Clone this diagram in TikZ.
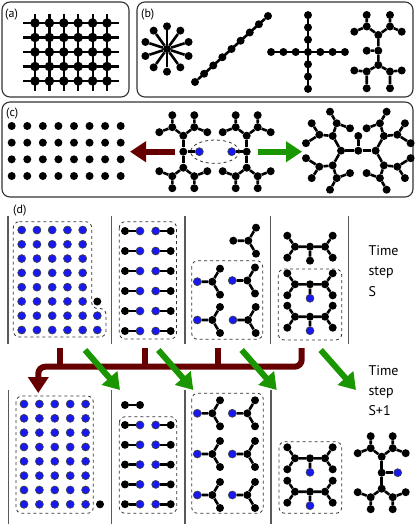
\documentclass[tikz,border=0pt]{standalone}
\usepackage{fontspec}
\setmainfont{PT Sans}
\usetikzlibrary{arrows.meta,shapes.geometric}

\definecolor{atomblue}{RGB}{24,24,240}
\definecolor{mergered}{RGB}{102,0,0}
\definecolor{growgreen}{RGB}{26,150,0}

\tikzset{
  atom/.style={circle, fill=black, inner sep=0pt, minimum size=8pt},
  bigatom/.style={atom, minimum size=9.5pt},
  blueatom/.style={atom, fill=atomblue, draw=black!75, line width=0.6pt},
  bond/.style={line width=2.6pt},
  latline/.style={line width=2.2pt},
  panel/.style={draw=black!80, line width=1.1pt, rounded corners=8pt},
  dashbox/.style={draw=black!80, dashed, line width=0.8pt, rounded corners=6pt},
  sep/.style={draw=black!65, line width=1.3pt},
  redline/.style={draw=mergered, line width=6pt},
  redarrow/.style={redline, -{Triangle[length=16pt, width=20pt]}},
  greenarrow/.style={draw=growgreen, line width=6pt, -{Triangle[length=16pt, width=20pt]}},
  lbl/.style={font=\fontsize{12}{14}\selectfont, inner sep=0pt, anchor=base west},
  tlbl/.style={font=\fontsize{14}{17}\selectfont, inner sep=0pt, anchor=base west}
}

% two atoms: name, x, y, left style, right style
\newcommand\dimer[5]{%
  \begin{scope}[shift={(#2,#3)}]
    \node[#4] (#1-a) at (0,0) {};
    \node[#5] (#1-b) at (15,0) {};
  \end{scope}
  \draw[bond] (#1-a) -- (#1-b);}

% three-armed unit: name, x, y, style of the free end
\newcommand\trimer[4]{%
  \begin{scope}[shift={(#2,#3)}]
    \node[atom] (#1-c) at (0,0) {};
    \node[#4] (#1-e) at (-15,0) {};
    \node[atom] (#1-u) at (7.7,-13) {};
    \node[atom] (#1-d) at (7.7,13) {};
  \end{scope}
  \draw[bond] (#1-e) -- (#1-c) -- (#1-u) (#1-c) -- (#1-d);}

% H shaped unit: name, x, y, style of the bottom end
\newcommand\hmol[4]{%
  \begin{scope}[shift={(#2,#3)}]
    \node[atom] (#1-c) at (0,0) {};
    \node[atom] (#1-l) at (-15,0) {};
    \node[atom] (#1-r) at (15,0) {};
    \node[atom] (#1-la) at (-22.7,-11) {};
    \node[atom] (#1-lb) at (-22.7,11) {};
    \node[atom] (#1-ra) at (22.7,-11) {};
    \node[atom] (#1-rb) at (22.7,11) {};
    \node[#4] (#1-t) at (0,14) {};
  \end{scope}
  \draw[bond] (#1-l) -- (#1-c) -- (#1-r) (#1-c) -- (#1-t)
    (#1-la) -- (#1-l) -- (#1-lb) (#1-ra) -- (#1-r) -- (#1-rb);}

% one half of the big unit: name, +1 top / -1 bottom, backbone node
\newcommand\bigarm[3]{%
  \begin{scope}[yscale=#2]
    \node[atom] (#1-a) at (-11,-24.5) {};
    \node[atom] (#1-b) at (11,-24.5) {};
    \node[atom] (#1-c) at (-11,-36.5) {};
    \node[atom] (#1-d) at (-24,-19.5) {};
    \node[atom] (#1-e) at (11,-36.5) {};
    \node[atom] (#1-f) at (24,-19.5) {};
  \end{scope}
  \draw[bond] (#3) -- (#1-a) -- (#1-c) (#1-a) -- (#1-d)
    (#3) -- (#1-b) -- (#1-e) (#1-b) -- (#1-f);}

% big unit: name, x, y
\newcommand\bigmol[3]{%
  \begin{scope}[shift={(#2,#3)}]
    \node[atom] (#1-m) at (0,0) {};
    \node[atom] (#1-u) at (0,-16) {};
    \node[atom] (#1-d) at (0,16) {};
    \bigarm{#1-t}{1}{#1-u}
    \bigarm{#1-b}{-1}{#1-d}
  \end{scope}
  \draw[bond] (#1-u) -- (#1-m) -- (#1-d);}

% limb of the merged unit: name, xscale, yscale, backbone node
\newcommand\limb[4]{%
  \begin{scope}[xscale=#2, yscale=#3]
    \node[atom] (#1-u) at (-25.6,-14.7) {};
    \node[atom] (#1-p) at (-39,-16) {};
    \node[atom] (#1-pa) at (-46.6,-27.4) {};
    \node[atom] (#1-pb) at (-52.3,-7.5) {};
    \node[atom] (#1-q) at (-21.6,-27.4) {};
    \node[atom] (#1-qa) at (-28.3,-39) {};
    \node[atom] (#1-qb) at (-8.3,-22.4) {};
  \end{scope}
  \draw[bond] (#4) -- (#1-u) -- (#1-p) -- (#1-pa) (#1-p) -- (#1-pb)
    (#1-u) -- (#1-q) -- (#1-qa) (#1-q) -- (#1-qb);}

\begin{document}
\begin{tikzpicture}[x=1pt, y=-1pt]
\useasboundingbox (0,0) rectangle (415,526);

% panels
\draw[panel] (2,2) rectangle (129,97);
\draw[panel] (137,2) rectangle (413,97);
\draw[panel] (2,102) rectangle (413,197);
\node[lbl] (la) at (5,18) {(a)};
\node[lbl] (lb) at (141,18) {(b)};
\node[lbl] (lc) at (6,117) {(c)};
\node[lbl] (ld) at (13,213.5) {(d)};

% (a) lattice
\foreach \r in {0,...,4}
  \draw[latline] (23,23+14.5*\r) -- (119,23+14.5*\r);
\foreach \c in {0,...,5}
  \draw[latline] (35+14.4*\c,14) -- (35+14.4*\c,91);
\foreach \r in {0,...,4}
  \foreach \c in {0,...,5}
    \node[bigatom] (a-\r-\c) at (35+14.4*\c,23+14.5*\r) {};

% (b) star
\node[atom] (st) at (167,49) {};
\begin{scope}[shift={(167,49)}]
  \foreach \k in {0,...,9} {
    \node[atom] (st\k) at (18+36*\k:22.7) {};
    \draw[bond] (st) -- (st\k);
  }
\end{scope}

% (b) chain
\foreach \k in {0,...,8}
  \node[atom] (ch\k) at (195+9.125*\k,82-8.25*\k) {};
\draw[bond] (ch0) -- (ch8);

% (b) cross
\node[atom] (cx) at (308,52) {};
\foreach \k in {1,2,3} {
  \node[atom] (cxw\k) at (308-12.3*\k,52) {};
  \node[atom] (cxe\k) at (308+12.3*\k,52) {};
  \node[atom] (cxn\k) at (308,52-12.3*\k) {};
  \node[atom] (cxs\k) at (308,52+12.3*\k) {};
}
\draw[bond] (cxw3) -- (cxe3) (cxn3) -- (cxs3);

% (b) branched tree
\node[atom] (tr-a) at (378.3,35) {};
\node[atom] (tr-b1) at (366.7,26.5) {};
\node[atom] (tr-b2) at (390,26.5) {};
\node[atom] (tr-b1a) at (366.7,15) {};
\node[atom] (tr-b1b) at (354.3,31.7) {};
\node[atom] (tr-b2a) at (390,15) {};
\node[atom] (tr-b2b) at (401.7,31.7) {};
\node[atom] (tr-c) at (378.3,50.7) {};
\node[atom] (tr-cl) at (366.7,50.7) {};
\node[atom] (tr-d) at (378.3,65) {};
\node[atom] (tr-e1) at (366.7,71.5) {};
\node[atom] (tr-e2) at (390,71.5) {};
\node[atom] (tr-e1a) at (354.3,70.5) {};
\node[atom] (tr-e1b) at (366.7,88.3) {};
\node[atom] (tr-e2a) at (401.7,70.5) {};
\node[atom] (tr-e2b) at (390,88.3) {};
\draw[bond] (tr-b1a) -- (tr-b1) -- (tr-b1b) (tr-b1) -- (tr-a) -- (tr-b2)
  (tr-b2a) -- (tr-b2) -- (tr-b2b) (tr-a) -- (tr-c) -- (tr-d) (tr-c) -- (tr-cl)
  (tr-e1) -- (tr-d) -- (tr-e2) (tr-e1a) -- (tr-e1) -- (tr-e1b)
  (tr-e2a) -- (tr-e2) -- (tr-e2b);

% (c) free atoms
\foreach \i in {0,...,7}
  \foreach \j in {0,...,3}
    \node[atom] (cg-\i-\j) at (11.7+15.57*\i,126+16.67*\j) {};

% (c) two units with their ends
\bigmol{cl}{183.3}{151.7}
\bigmol{cr}{246.7}{151.7}
\node[blueatom] (cl-x) at (199.3,151.7) {};
\node[blueatom] (cr-x) at (231.7,151.7) {};
\draw[bond] (cl-m) -- (cl-x) (cr-m) -- (cr-x);
\node[draw=black!80, dashed, line width=0.8pt, ellipse, minimum width=48.6pt,
  minimum height=23.4pt] (pair) at (215,151.7) {};

% (c) arrows
\coordinate (cra) at (175,151.7);
\coordinate (crb) at (130,151.7);
\coordinate (cga) at (258,151.7);
\coordinate (cgb) at (302,151.7);
\draw[redarrow] (cra) -- (crb);
\draw[greenarrow] (cga) -- (cgb);

% (c) merged unit
\begin{scope}[shift={(358.3,150.7)}]
  \node[atom] (mc) at (0,0) {};
  \node[atom] (mcu) at (0,-14.7) {};
  \node[atom] (ml) at (-17.3,0) {};
  \node[atom] (mr) at (17.3,0) {};
  \limb{mlt}{1}{1}{ml}
  \limb{mlb}{1}{-1}{ml}
  \limb{mrt}{-1}{1}{mr}
  \limb{mrb}{-1}{-1}{mr}
  \draw[bond] (ml) -- (mc) -- (mr) (mc) -- (mcu);
\end{scope}

% (d) separators
\foreach \x in {8,111.7,185,270.3,348.3}
  \draw[sep] (\x,216.5) -- (\x,344);
\foreach \x in {8.3,111.7,185,271}
  \draw[sep] (\x,390) -- (\x,524);

% (d) step S, column 1
\foreach \i in {0,...,4}
  \foreach \j in {0,...,7}
    \node[blueatom] (ta-\i-\j) at (21.7+15.25*\i,230+14.29*\j) {};
\node[atom] (ta-5-5) at (97.3,301.5) {};
\node[blueatom] (ta-5-6) at (97.3,315.7) {};
\node[blueatom] (ta-5-7) at (97.3,330) {};
\draw[dashbox] (13.3,221.7) -- (91.7,221.7) -- (91.7,308.5) -- (106,308.5)
  -- (106,337) -- (13.3,337) -- cycle;

% (d) step S, column 2
\foreach \k in {0,...,5} {
  \dimer{tbl\k}{125}{231+20*\k}{atom}{blueatom}
  \dimer{tbr\k}{155.7}{231+20*\k}{blueatom}{atom}
}
\draw[dashbox] (119.3,221.7) rectangle (176.5,339);

% (d) step S, column 3
\trimer{tcf}{248.3}{240.7}{atom}
\trimer{tc1}{212.3}{281.7}{blueatom}
\trimer{tc2}{247.3}{280.5}{blueatom}
\trimer{tc3}{212.3}{320}{blueatom}
\trimer{tc4}{248}{320}{blueatom}
\draw[dashbox] (191.7,260.7) rectangle (262.7,339.3);

% (d) step S, column 4
\hmol{tdf}{310}{246.7}{atom}
\hmol{td1}{310}{284.3}{blueatom}
\hmol{td2}{310}{316.7}{blueatom}
\draw[dashbox] (278.3,269) rectangle (341.7,340);

\node[tlbl] (ts1) at (368.3,255.5) {Time};
\node[tlbl] (ts2) at (368.3,275.5) {step};
\node[tlbl] (ts3) at (368.3,296) {S};

% (d) arrows between the steps
\coordinate (rs1) at (60,348);
\coordinate (rs2) at (145,348);
\coordinate (rs3) at (218.3,348);
\coordinate (rs4) at (301.7,348);
\coordinate (rbar) at (38.3,366.7);
\coordinate (rtip) at (38.3,393);
\draw[redarrow, rounded corners=7pt] (rs4) |- (rbar) -- (rtip);
\foreach \s in {rs1,rs2,rs3}
  \draw[redline] (\s) -- (\s |- rbar);

\coordinate (gs1) at (85,350);    \coordinate (gt1) at (120,390);
\coordinate (gs2) at (158.3,350); \coordinate (gt2) at (193.3,390);
\coordinate (gs3) at (241.7,350); \coordinate (gt3) at (276.7,390);
\coordinate (gs4) at (320.7,350); \coordinate (gt4) at (356,390);
\foreach \k in {1,...,4}
  \draw[greenarrow] (gs\k) -- (gt\k);

% (d) step S+1, column 1
\foreach \i in {0,...,4}
  \foreach \j in {0,...,7}
    \node[blueatom] (ba-\i-\j) at (24+15.4*\i,404+14.33*\j) {};
\node[atom] (ba-x) at (100,504.3) {};
\draw[dashbox] (16,396) rectangle (93.3,513.3);

% (d) step S+1, column 2
\dimer{bbf}{125}{405}{atom}{atom}
\foreach \k in {0,...,4} {
  \dimer{bbl\k}{125}{425+19.8*\k}{atom}{blueatom}
  \dimer{bbr\k}{155.7}{425+19.8*\k}{blueatom}{atom}
}
\draw[dashbox] (119.3,416.7) rectangle (176.7,513.3);

% (d) step S+1, column 3
\foreach \y [count=\k] in {413.3,454,495} {
  \trimer{bcl\k}{212.3}{\y}{blueatom}
  \trimer{bcr\k}{247.3}{\y}{blueatom}
}
\draw[dashbox] (191.7,393.3) rectangle (263.3,513.3);

% (d) step S+1, column 4
\hmol{bd1}{310}{458.3}{blueatom}
\hmol{bd2}{310}{491.7}{blueatom}
\draw[dashbox] (279,441.7) rectangle (341.7,513.3);

% (d) step S+1, grown unit
\bigmol{be}{381.7}{472.7}
\node[blueatom] (be-x) at (397.7,472.7) {};
\draw[bond] (be-m) -- (be-x);

\node[tlbl] (tn1) at (368.3,375) {Time};
\node[tlbl] (tn2) at (368.3,395) {step};
\node[tlbl] (tn3) at (368.3,415) {S+1};
\end{tikzpicture}
\end{document}
